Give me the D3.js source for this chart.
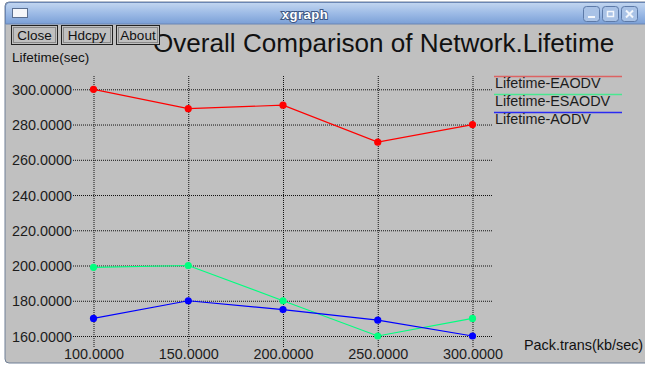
<!DOCTYPE html>
<html>
<head>
<meta charset="utf-8">
<script src="https://cdn.jsdelivr.net/npm/d3@7"></script>
<style>
  html, body { margin: 0; padding: 0; background: #ffffff; }
  svg { display: block; font-family: "Liberation Sans", Arial, Helvetica, sans-serif; }
</style>
</head>
<body>
<svg id="chart" width="645" height="366"></svg>
<script>
// Packet transmission rate (kb/sec) on the x axis
const packRates = [100, 150, 200, 250, 300];
// Network lifetime (sec) for each protocol
const lifetimeEAODV = [300, 289, 291, 270, 280];
const lifetimeESAODV = [199, 200, 180, 160, 170];
const lifetimeAODV = [170, 180, 175, 169, 160];
const seriesNames = ["Lifetime-EAODV", "Lifetime-ESAODV", "Lifetime-AODV"];
const xTicks = [100, 150, 200, 250, 300];
const yTicks = [160, 180, 200, 220, 240, 260, 280, 300];

const series = [
  { name: seriesNames[0], values: lifetimeEAODV, color: "#ff0000", legend: "#dc6262" },
  { name: seriesNames[1], values: lifetimeESAODV, color: "#00ff7f", legend: "#48e890" },
  { name: seriesNames[2], values: lifetimeAODV, color: "#0000ff", legend: "#2a2af2" }
];

const svg = d3.select("#chart");

// ---- window frame ----
const defs = svg.append("defs");
const grad = defs.append("linearGradient").attr("id", "titlebar")
  .attr("x1", 0).attr("y1", 0).attr("x2", 0).attr("y2", 1);
grad.append("stop").attr("offset", "0%").attr("stop-color", "#c2d6f0");
grad.append("stop").attr("offset", "50%").attr("stop-color", "#9dbbe6");
grad.append("stop").attr("offset", "100%").attr("stop-color", "#7a9fd6");

svg.append("rect").attr("x", 5).attr("y", 2).attr("width", 650).attr("height", 361)
  .attr("rx", 4).attr("fill", "#c0c0c0").attr("stroke", "#6f7f96").attr("stroke-width", 1);
svg.append("path")
  .attr("d", "M5.5,24 V7 Q5.5,2.5 10,2.5 H650 V24 Z")
  .attr("fill", "url(#titlebar)").attr("stroke", "#6a86b4").attr("stroke-width", 1);
svg.append("rect").attr("x", 12.5).attr("y", 8.5).attr("width", 15).attr("height", 9)
  .attr("fill", "#f4f6fa").attr("stroke", "#5a6f90");
svg.append("text").attr("x", 305).attr("y", 19).attr("text-anchor", "middle")
  .attr("font-size", 13).attr("font-weight", "bold").attr("fill", "none")
  .attr("stroke", "#3d5784").attr("stroke-width", 2).attr("letter-spacing", 0.5).text("xgraph");
svg.append("text").attr("x", 305).attr("y", 19).attr("text-anchor", "middle")
  .attr("font-size", 13).attr("font-weight", "bold").attr("fill", "#ffffff")
  .attr("letter-spacing", 0.5).text("xgraph");

// window control buttons
const ctrl = [583, 602, 621];
ctrl.forEach((cx, i) => {
  const g = svg.append("g").attr("transform", `translate(${cx},6)`);
  g.append("rect").attr("x", 0.5).attr("y", 0.5).attr("width", 16).attr("height", 15).attr("rx", 3)
    .attr("fill", "#a9c2e6").attr("stroke", "#5d7aa8");
  if (i === 0) g.append("rect").attr("x", 5).attr("y", 10).attr("width", 7).attr("height", 2).attr("fill", "#f4f7fc");
  if (i === 1) g.append("rect").attr("x", 5.5).attr("y", 5.5).attr("width", 6).attr("height", 5)
    .attr("fill", "none").attr("stroke", "#f4f7fc").attr("stroke-width", 1.5);
  if (i === 2) g.append("path").attr("d", "M5,4.5 L12,11.5 M12,4.5 L5,11.5")
    .attr("stroke", "#f4f7fc").attr("stroke-width", 2);
});

// ---- xgraph buttons ----
const buttons = [{ t: "Close", x: 11, w: 46 }, { t: "Hdcpy", x: 61, w: 51 }, { t: "About", x: 116, w: 43 }];

// ---- plot title (drawn before buttons so the buttons overlap it) ----
svg.append("text").attr("x", 153).attr("y", 52).attr("font-size", 26.1).attr("fill", "#111")
  .text("Overall Comparison of Network.Lifetime");

buttons.forEach(b => {
  svg.append("rect").attr("x", b.x + 0.5).attr("y", 25.5).attr("width", b.w).attr("height", 19)
    .attr("fill", "#c0c0c0").attr("stroke", "#222").attr("stroke-width", 1);
  svg.append("rect").attr("x", b.x + 2.5).attr("y", 27.5).attr("width", b.w - 4).attr("height", 15)
    .attr("fill", "none").attr("stroke", "#8a8a8a").attr("stroke-width", 1);
  svg.append("text").attr("x", b.x + b.w / 2 + 0.5).attr("y", 40).attr("text-anchor", "middle")
    .attr("font-size", 13.5).attr("fill", "#111").text(b.t);
});

// ---- scales ----
const x = d3.scaleLinear().domain([100, 300]).range([93.5, 472.5]);
const y = d3.scaleLinear().domain([160, 300]).range([336, 89.3]);

// y axis title
svg.append("text").attr("x", 12).attr("y", 62).attr("font-size", 13.5).attr("fill", "#111").text("Lifetime(sec)");
// x axis title
svg.append("text").attr("x", 524).attr("y", 350).attr("font-size", 14.4).attr("fill", "#111").text("Pack.trans(kb/sec)");

// ---- grid ----
const gridTop = 76, gridBottom = 347, gridLeft = 73, gridRight = 493;
const yAxis = d3.axisLeft(y).tickValues(yTicks).tickSize(-(gridRight - gridLeft)).tickPadding(1)
  .tickFormat(d3.format(".4f"));
const yg = svg.append("g").attr("transform", `translate(${gridLeft},0)`).call(yAxis);
yg.select(".domain").remove();
yg.selectAll(".tick line").attr("stroke", "#111").attr("stroke-dasharray", "1,1");
yg.selectAll(".tick text").attr("font-size", 14.4).attr("fill", "#1c1c1c")
  .attr("font-family", "Liberation Sans, Arial, sans-serif").attr("x", -1).attr("dy", "0.36em");

const xAxis = d3.axisBottom(x).tickValues(xTicks).tickSize(-(gridBottom - gridTop)).tickPadding(0)
  .tickFormat(d3.format(".4f"));
const xg = svg.append("g").attr("transform", `translate(0,${gridBottom})`).call(xAxis);
xg.select(".domain").remove();
xg.selectAll(".tick line").attr("stroke", "#111").attr("stroke-dasharray", "1,1");
xg.selectAll(".tick text").attr("font-size", 14.4).attr("fill", "#1c1c1c")
  .attr("font-family", "Liberation Sans, Arial, sans-serif").attr("y", 2).attr("dy", "0.71em");

// ---- series ----
const line = d3.line().x((d, i) => x(packRates[i])).y(d => y(d));
series.forEach(s => {
  svg.append("path").datum(s.values).attr("d", line)
    .attr("fill", "none").attr("stroke", s.color).attr("stroke-width", 1.2);
  svg.selectAll(null).data(s.values).enter().append("circle")
    .attr("cx", (d, i) => x(packRates[i])).attr("cy", d => y(d)).attr("r", 3.6)
    .attr("fill", s.color);
});

// ---- legend ----
series.forEach((s, i) => {
  const ly = 76.5 + i * 18;
  svg.append("line").attr("x1", 494).attr("x2", 622).attr("y1", ly).attr("y2", ly)
    .attr("stroke", s.legend).attr("stroke-width", 1.6);
  svg.append("text").attr("x", 495).attr("y", ly + 11).attr("font-size", 14.4).attr("fill", "#1c1c1c").text(s.name);
});
</script>
</body>
</html>
